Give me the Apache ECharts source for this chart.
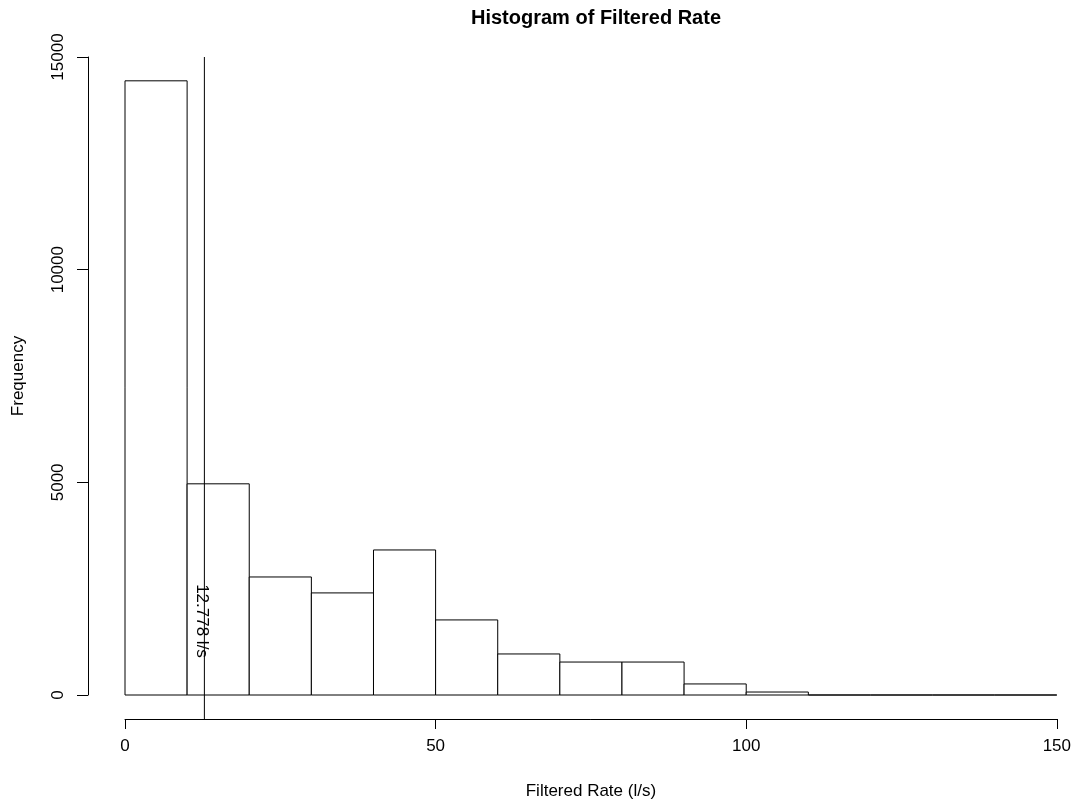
<!DOCTYPE html>
<html>
<head>
<meta charset="utf-8">
<script src="https://cdn.jsdelivr.net/npm/echarts@6/dist/echarts.min.js"></script>
<style>html,body{margin:0;padding:0;background:#fff}#c{width:1074px;height:805px}</style>
</head>
<body>
<div id="c"></div>
<script>
var binStarts = [0,10,20,30,40,50,60,70,80,90,100,110,120,130,140];
var binWidth = 10;
var counts = [14440,4965,2775,2400,3410,1765,965,775,775,260,70,0,0,0,0];
var xTicks = [0,50,100,150];
var yTicks = [0,5000,10000,15000];
var markValue = 12.778;
var markLabel = '12.778 l/s';
var markLabelY = 1740;

var font = '"Liberation Sans", Arial, sans-serif';
var data = binStarts.map(function(s,i){return [s, s+binWidth, counts[i]];});

var chart = echarts.init(document.getElementById('c'), null, {renderer:'canvas'});
chart.setOption({
  animation:false,
  backgroundColor:'#fff',
  title:{text:'Histogram of Filtered Rate', left:591, textAlign:'center', top:3,
    textStyle:{fontFamily:font, fontSize:20, fontWeight:'bold', color:'#000'}},
  grid:{left:125, right:16, top:57, bottom:110},
  xAxis:{type:'value', min:0, max:150, interval:50, offset:24,
    name:'Filtered Rate (l/s)', nameLocation:'middle', nameGap:64,
    nameTextStyle:{fontFamily:font, fontSize:17, color:'#000'},
    axisLine:{show:true, onZero:false, lineStyle:{color:'#000', width:1}},
    axisTick:{show:true, length:10, lineStyle:{color:'#000'}},
    axisLabel:{fontFamily:font, fontSize:17, color:'#000', margin:19,
      formatter:function(v){return xTicks.indexOf(v)>=0?String(v):'';}},
    splitLine:{show:false}},
  yAxis:{type:'value', min:0, max:15000, interval:5000, offset:37,
    name:'Frequency', nameLocation:'middle', nameGap:61, nameRotate:90,
    nameTextStyle:{fontFamily:font, fontSize:17, color:'#000'},
    axisLine:{show:true, onZero:false, lineStyle:{color:'#000', width:1}},
    axisTick:{show:true, length:11, lineStyle:{color:'#000'}},
    axisLabel:{fontFamily:font, fontSize:17, color:'#000', margin:21, rotate:90,
      formatter:function(v){return yTicks.indexOf(v)>=0?String(v):'';}},
    splitLine:{show:false}},
  series:[
    {type:'custom', data:data, encode:{x:[0,1], y:2},
      renderItem:function(params, api){
        var p0 = api.coord([api.value(0), 0]);
        var p1 = api.coord([api.value(1), api.value(2)]);
        return {type:'rect', shape:{x:p0[0], y:p1[1], width:p1[0]-p0[0], height:p0[1]-p1[1]},
          style:{fill:'#fff', stroke:'#000', lineWidth:1}};
      }},
    {type:'custom', data:[[markValue, markLabelY]], encode:{x:0, y:1}, z:5,
      renderItem:function(params, api){
        var top = api.coord([api.value(0), 15000]);
        var bot = api.coord([api.value(0), 0]);
        var lp = api.coord([api.value(0), api.value(1)]);
        return {type:'group', children:[
          {type:'line', shape:{x1:top[0], y1:top[1], x2:bot[0], y2:bot[1]+24},
            style:{stroke:'#000', lineWidth:1}},
          {type:'text', x:lp[0]-3, y:lp[1], rotation:-Math.PI/2,
            style:{text:markLabel, fontFamily:font, fontSize:17, fill:'#000',
              align:'center', verticalAlign:'middle'}}
        ]};
      }}
  ]
});
</script>
</body>
</html>
